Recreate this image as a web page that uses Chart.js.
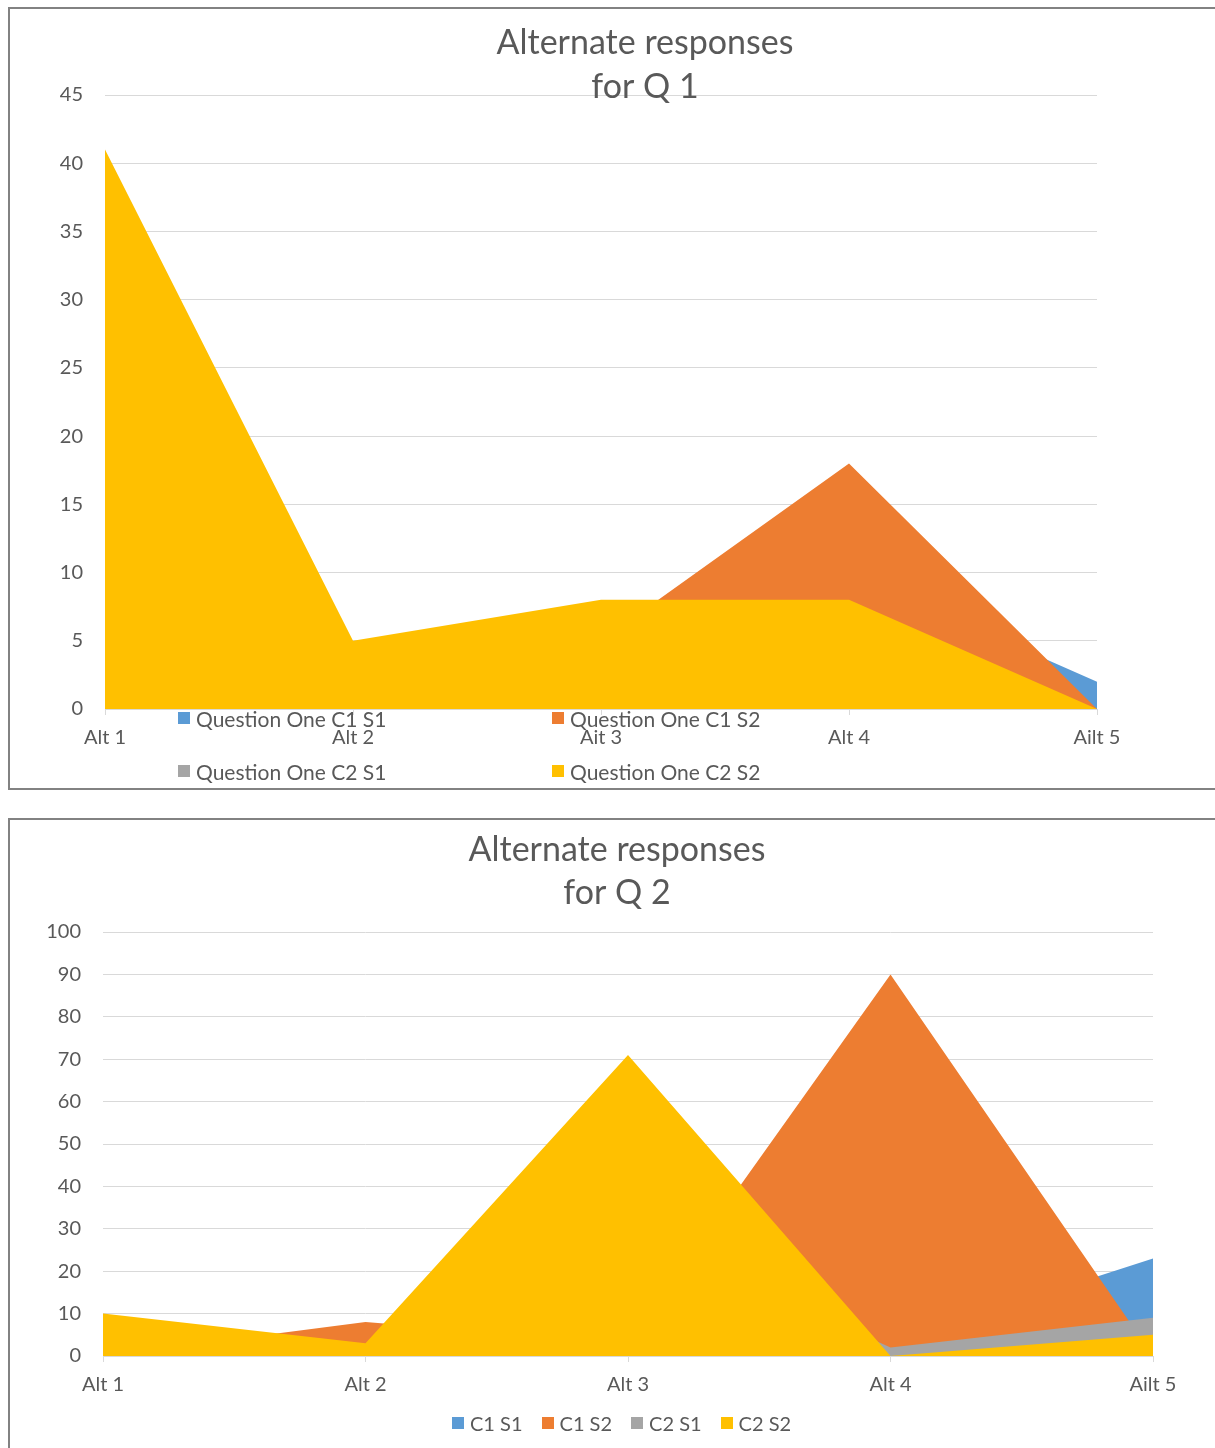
<!DOCTYPE html>
<html>
<head>
<meta charset="utf-8">
<script src="https://cdn.jsdelivr.net/npm/chart.js@4"></script>
<style>
  body { margin: 0; background: #fff; overflow: hidden; width: 1215px; height: 1448px; position: relative; font-family: Lato, "Open Sans", sans-serif; }
  .box { position: absolute; border: 2px solid #828282; background: #fff; }
  #box1 { left: 8px; top: 7px; width: 1236px; height: 779px; }
  #box2 { left: 8px; top: 818px; width: 1236px; height: 640px; }
  .legend { position: absolute; color: #595959; font-size: 20px; }
  .legend .item { display: flex; align-items: center; height: 24px; white-space: nowrap; }
  .legend .sw { width: 12px; height: 12px; margin-right: 6px; flex: none; }
  #legend1 { left: 178px; top: 706px; display: grid; grid-template-columns: 374px 374px; row-gap: 29px; font-size: 21px; }
  #legend2 { left: 452px; top: 1411px; display: flex; column-gap: 19px; }
</style>
</head>
<body>
<div class="box" id="box1"><canvas id="chart1" width="1236" height="779"></canvas></div>
<div class="box" id="box2"><canvas id="chart2" width="1236" height="640"></canvas></div>
<div class="legend" id="legend1"></div>
<div class="legend" id="legend2"></div>
<script>
const colors = ['#5B9BD5', '#ED7D31', '#A5A5A5', '#FFC000'];

// chart 1
const labels1 = ['Alt 1', 'Alt 2', 'Ait 3', 'Alt 4', 'Ailt 5'];
const names1 = ['Question One C1 S1', 'Question One C1 S2', 'Question One C2 S1', 'Question One C2 S2'];
const q1C1S1 = [20, 3, 4, 10, 2];
const q1C1S2 = [30, 4, 5, 18, 0];
const q1C2S1 = [15, 2, 3, 5, 0];
const q1C2S2 = [41, 5, 8, 8, 0];

// chart 2
const labels2 = ['Alt 1', 'Alt 2', 'Alt 3', 'Alt 4', 'Ailt 5'];
const names2 = ['C1 S1', 'C1 S2', 'C2 S1', 'C2 S2'];
const q2C1S1 = [5, 2, 20, 3, 23];
const q2C1S2 = [0, 8, 3, 90, 0];
const q2C2S1 = [6, 2, 30, 2, 9];
const q2C2S2 = [10, 3, 71, 0, 5];

const font = { family: 'Lato', size: 20 };
const textColor = '#595959';
const gridColor = '#d9d9d9';

// title drawn on top, it doesn't take layout space (excel style)
const titleLines = {
  id: 'titleLines',
  afterDraw(chart, args, opts) {
    const ctx = chart.ctx;
    ctx.save();
    ctx.font = '34px Lato';
    ctx.fillStyle = textColor;
    ctx.textAlign = 'center';
    ctx.textBaseline = 'middle';
    opts.lines.forEach((t, i) => ctx.fillText(t, opts.x, opts.y + i * opts.lineHeight));
    ctx.restore();
  }
};

function makeDatasets(names, series) {
  // first series is drawn at the back, last one on top
  return names.map((n, i) => ({
    label: n,
    data: series[i],
    backgroundColor: colors[i],
    borderWidth: 0,
    pointRadius: 0,
    fill: 'origin',
    tension: 0,
    order: names.length - i
  }));
}

function makeChart(el, labels, names, series, yMax, step, axisW, padRight, xAxisH, title) {
  return new Chart(el, {
    type: 'line',
    data: {
      labels: labels,
      datasets: makeDatasets(names, series)
    },
    plugins: [titleLines],
    options: {
      responsive: false,
      animation: false,
      layout: {
        padding: { top: title.top, right: padRight, bottom: 0, left: 0 }
      },
      plugins: {
        legend: { display: false },
        tooltip: { enabled: false },
        titleLines: title
      },
      scales: {
        x: {
          offset: false,
          grid: { drawOnChartArea: false, drawTicks: true, tickLength: 6, color: gridColor },
          border: { display: true, color: gridColor },
          ticks: { color: textColor, font: font, padding: 11, maxRotation: 0 },
          afterFit: (s) => { s.height = xAxisH; }
        },
        y: {
          min: 0,
          max: yMax,
          grid: { color: gridColor, drawTicks: false },
          border: { display: false },
          ticks: { stepSize: step, color: textColor, font: font, padding: 22 },
          afterFit: (s) => { s.width = axisW; }
        }
      }
    }
  });
}

makeChart(document.getElementById('chart1'), labels1, names1,
  [q1C1S1, q1C1S2, q1C2S1, q1C2S2], 45, 5, 95, 149, 79,
  { lines: ['Alternate responses', 'for Q 1'], x: 635, y: 34, lineHeight: 44, top: 86 });

makeChart(document.getElementById('chart2'), labels2, names2,
  [q2C1S1, q2C1S2, q2C2S1, q2C2S2], 100, 10, 93, 93, 104,
  { lines: ['Alternate responses', 'for Q 2'], x: 607, y: 30, lineHeight: 43, top: 112 });

function fillLegend(el, names) {
  names.forEach((n, i) => {
    const item = document.createElement('div');
    item.className = 'item';
    const sw = document.createElement('span');
    sw.className = 'sw';
    sw.style.background = colors[i];
    item.appendChild(sw);
    item.appendChild(document.createTextNode(n));
    el.appendChild(item);
  });
}
fillLegend(document.getElementById('legend1'), names1);
fillLegend(document.getElementById('legend2'), names2);
</script>
</body>
</html>
